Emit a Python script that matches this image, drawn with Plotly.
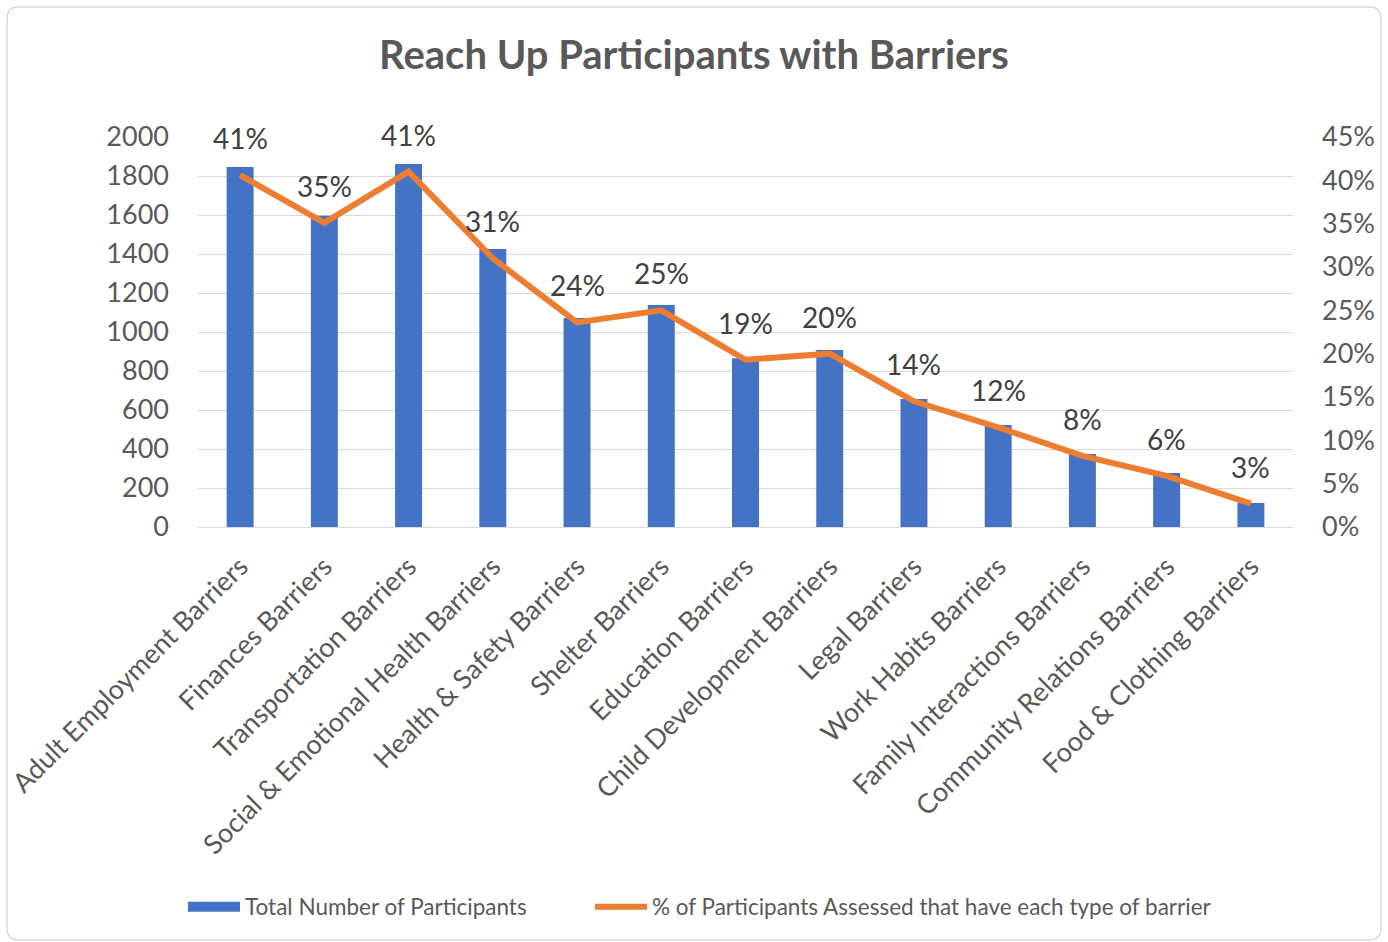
import plotly.graph_objects as go

categories = [
    "Adult Employment Barriers", "Finances Barriers", "Transportation Barriers",
    "Social & Emotional Health Barriers", "Health & Safety Barriers", "Shelter Barriers",
    "Education Barriers", "Child Development Barriers", "Legal Barriers",
    "Work Habits Barriers", "Family Interactions Barriers",
    "Community Relations Barriers", "Food & Clothing Barriers",
]
participants = [1846, 1596, 1862, 1426, 1072, 1138, 865, 908, 656, 523, 374, 277, 123]
pct_barrier = [0.406, 0.351, 0.410, 0.310, 0.236, 0.250, 0.193, 0.200, 0.145, 0.115, 0.082, 0.059, 0.027]

left_ticks = list(range(0, 2001, 200))
right_ticks = [i / 100 for i in range(0, 46, 5)]

FONT = "Lato"
GRAY = "#595959"
BLUE = "#4472C4"
ORANGE = "#ED7D31"

W, H = 1388, 942
L, R, T, B = 198, 1293, 137, 527
PW, PH = R - L, B - T


def px_x(px):
    return (px - L) / PW


def px_y(py):
    return (B - py) / PH


fig = go.Figure()
fig.add_trace(go.Bar(
    x=categories, y=participants, name="Total Number of Participants",
    marker=dict(color=BLUE, line=dict(width=0)), showlegend=False,
))
# legend proxy for the bar series (wide rectangle symbol)
fig.add_trace(go.Scatter(
    x=[None], y=[None], mode="lines", name="Total Number of Participants",
    line=dict(color=BLUE, width=14), legend="legend",
))
fig.add_trace(go.Scatter(
    x=categories, y=pct_barrier, name="% of Participants Assessed that have each type of barrier",
    mode="lines", yaxis="y2", legend="legend2",
    line=dict(color=ORANGE, width=6),
))

for c, p in zip(categories, pct_barrier):
    fig.add_annotation(
        x=c, y=p, yref="y2", text=f"{round(p*100)}%", showarrow=False,
        yshift=37, font=dict(family=FONT, size=28, color="#404040"),
    )

# rounded chart border
x0, x1 = px_x(7), px_x(1381)
y0, y1 = px_y(940), px_y(7)
rx, ry = 12 / PW, 12 / PH
path = (
    f"M {x0+rx},{y1} L {x1-rx},{y1} Q {x1},{y1} {x1},{y1-ry} "
    f"L {x1},{y0+ry} Q {x1},{y0} {x1-rx},{y0} "
    f"L {x0+rx},{y0} Q {x0},{y0} {x0},{y0+ry} "
    f"L {x0},{y1-ry} Q {x0},{y1} {x0+rx},{y1} Z"
)

legend_common = dict(
    orientation="h", xanchor="left", xref="container",
    y=1 - 907 / H, yanchor="middle", yref="container",
    font=dict(family=FONT, size=22.5, color=GRAY), itemwidth=52,
    bgcolor="rgba(0,0,0,0)",
)

fig.update_layout(
    width=W, height=H,
    margin=dict(l=L, r=W - R, t=T, b=H - B, autoexpand=False),
    paper_bgcolor="white", plot_bgcolor="white",
    bargap=0.68,
    title=dict(
        text="<b>Reach Up Participants with Barriers</b>",
        x=0.5, xanchor="center", y=1 - 55 / H, yanchor="middle", yref="container",
        font=dict(family=FONT, size=40, color=GRAY),
    ),
    font=dict(family=FONT, color=GRAY),
    xaxis=dict(
        tickangle=-45, tickfont=dict(size=27, color=GRAY),
        showgrid=False, showline=True, linecolor="#D9D9D9", linewidth=1,
        ticks="", ticklabelstandoff=12,
    ),
    yaxis=dict(
        range=[0, 2000], tickvals=left_ticks,
        tickfont=dict(size=27, color=GRAY),
        gridcolor="#D9D9D9", gridwidth=1, zeroline=False,
        ticklabelstandoff=28, showline=False,
    ),
    yaxis2=dict(
        range=[0, 0.45], tickvals=right_ticks, tickformat=".0%",
        overlaying="y", side="right", showgrid=False, zeroline=False,
        tickfont=dict(size=27, color=GRAY), ticklabelstandoff=28,
    ),
    legend=dict(x=183 / W, **legend_common),
    legend2=dict(x=590 / W, **legend_common),
    shapes=[dict(
        type="path", xref="paper", yref="paper", path=path,
        line=dict(color="#D9D9D9", width=1.5), fillcolor="rgba(0,0,0,0)", layer="below",
    )],
)

fig.write_html(
    "out.html",
    config={"displayModeBar": False},
    post_script="document.body.style.margin='0';document.body.style.overflow='hidden';",
)
